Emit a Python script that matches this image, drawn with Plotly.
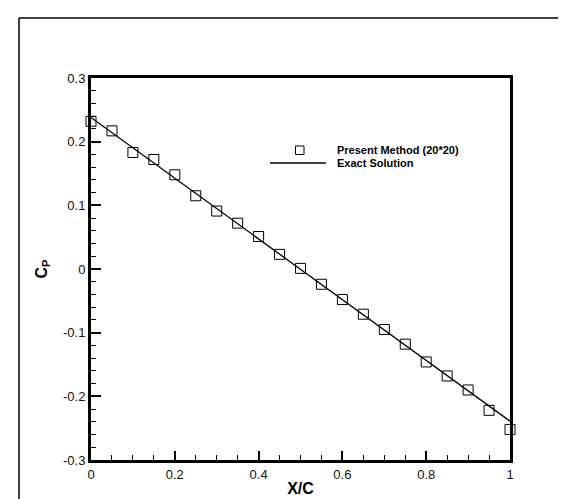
import plotly.graph_objects as go

# Data
x_method = [0, 0.05, 0.1, 0.15, 0.2, 0.25, 0.3, 0.35, 0.4, 0.45, 0.5,
            0.55, 0.6, 0.65, 0.7, 0.75, 0.8, 0.85, 0.9, 0.95, 1.0]
cp_method = [0.232, 0.217, 0.183, 0.172, 0.148, 0.115, 0.091, 0.072, 0.051, 0.023, 0.001,
             -0.024, -0.048, -0.071, -0.095, -0.118, -0.146, -0.168, -0.190, -0.222, -0.252]
x_exact = [0.0, 1.0]
cp_exact = [0.238, -0.239]

x_tickvals = [0, 0.2, 0.4, 0.6, 0.8, 1]
x_ticktext = ["0", "0.2", "0.4", "0.6", "0.8", "1"]
y_tickvals = [-0.3, -0.2, -0.1, 0, 0.1, 0.2, 0.3]
y_ticktext = ["-0.3", "-0.2", "-0.1", "0", "0.1", "0.2", "0.3"]

legend_labels = ["Present Method (20*20)", "Exact Solution"]

W, H = 566, 499
L, R, T, B = 83, 64, 70, 47

fig = go.Figure()
fig.add_trace(go.Scatter(x=x_exact, y=cp_exact, mode="lines",
                         line=dict(color="black", width=1.3),
                         name=legend_labels[1], showlegend=False, cliponaxis=False))
fig.add_trace(go.Scatter(x=x_method, y=cp_method, mode="markers",
                         marker=dict(symbol="square-open", size=10, color="black",
                                     line=dict(width=1, color="black")),
                         name=legend_labels[0], showlegend=False, cliponaxis=False))

axis_font = dict(family="Liberation Sans, Arial, sans-serif", size=13, color="#111111")
title_font = dict(family="Liberation Sans, Arial, sans-serif", size=16, color="black")

fig.update_xaxes(range=[0, 1], tickvals=x_tickvals, ticktext=x_ticktext,
                 ticks="inside", ticklen=9, tickwidth=2, tickcolor="black",
                 minor=dict(dtick=0.05, ticks="inside", ticklen=5, tickwidth=1, tickcolor="black"),
                 showline=True, linewidth=3, linecolor="black", mirror=True,
                 showgrid=False, zeroline=False, tickfont=axis_font,
                 title=dict(text="<b>X/C</b>", font=title_font, standoff=3))
fig.update_yaxes(range=[-0.3, 0.3], tickvals=y_tickvals, ticktext=y_ticktext,
                 ticks="inside", ticklen=10, tickwidth=2, tickcolor="black",
                 minor=dict(dtick=0.02, ticks="inside", ticklen=5, tickwidth=1, tickcolor="black"),
                 showline=True, linewidth=3, linecolor="black", mirror=True,
                 showgrid=False, zeroline=False, tickfont=axis_font,
                 title=dict(text="<b>C<sub>P</sub></b>", font=title_font, standoff=12))

pw, ph = W - L - R, H - T - B


def px(xp):
    return (xp - L) / pw


def py(yp):
    return (H - B - yp) / ph


shapes = [
    # outer frame lines (left and top)
    dict(type="line", xref="paper", yref="paper", x0=px(11), x1=px(566), y0=py(10), y1=py(10),
         line=dict(color="black", width=1.5)),
    dict(type="line", xref="paper", yref="paper", x0=px(11), x1=px(11), y0=py(10), y1=py(499),
         line=dict(color="black", width=1.5)),
    # legend symbols
    dict(type="rect", xref="paper", yref="paper", x0=px(287.5), x1=px(296), y0=py(138), y1=py(146.5),
         line=dict(color="black", width=1)),
    dict(type="line", xref="paper", yref="paper", x0=px(262), x1=px(318), y0=py(155), y1=py(155),
         line=dict(color="black", width=1.3)),
]

leg_font = dict(family="Liberation Sans, Arial, sans-serif", size=11, color="black")
annotations = [
    dict(text="<b>" + legend_labels[0] + "</b>", xref="paper", yref="paper", x=px(327), y=py(142),
         xanchor="left", yanchor="middle", showarrow=False, font=leg_font),
    dict(text="<b>" + legend_labels[1] + "</b>", xref="paper", yref="paper", x=px(327), y=py(155),
         xanchor="left", yanchor="middle", showarrow=False, font=leg_font),
]

fig.update_layout(width=W, height=H, margin=dict(l=L, r=R, t=T, b=B, autoexpand=False),
                  plot_bgcolor="white", paper_bgcolor="white", showlegend=False,
                  shapes=shapes, annotations=annotations)

fig.write_html("out.html")
